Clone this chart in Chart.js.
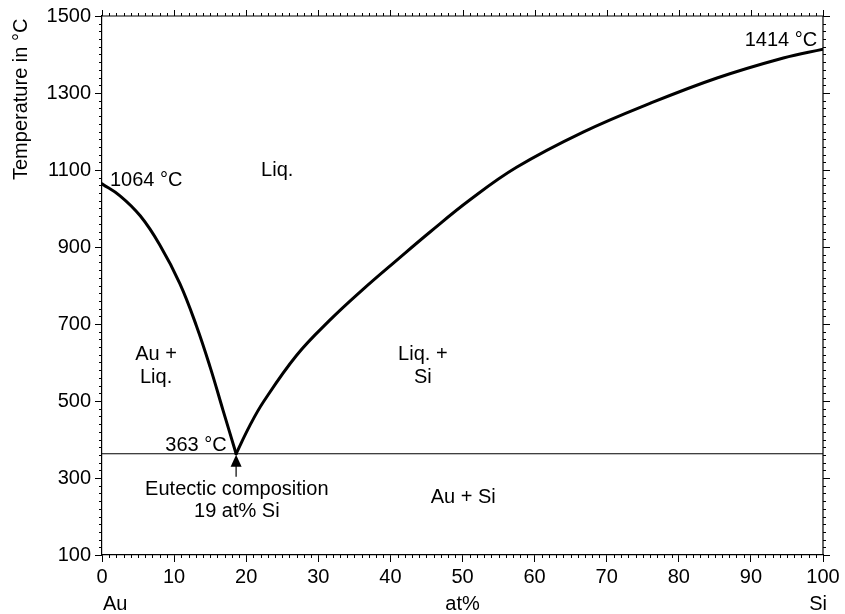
<!DOCTYPE html>
<html><head><meta charset="utf-8">
<script src="https://cdn.jsdelivr.net/npm/chart.js@4"></script>
<style>html,body{margin:0;padding:0;background:#fff}</style>
</head><body>
<canvas id="c" width="845" height="614"></canvas>
<script>
// ---- data ----
const auLiquidusX = [0, 2.5, 5.3, 8.0, 10.8, 13.1, 15.0, 16.8, 18.6];
const auLiquidusT = [1064, 1033, 981, 906, 805, 695, 588, 475, 363];
const siLiquidusX = [18.6, 20.5, 22.4, 27.0, 31.6, 36.2, 40.9, 45.5, 51.0, 57.5, 66.8, 76.0, 85.3, 94.5, 100];
const siLiquidusT = [363, 436, 498, 619, 710, 790, 866, 939, 1022, 1107, 1199, 1273, 1339, 1391, 1414];
const eutecticX = [0, 100];
const eutecticT = [363, 363];
const eutecticPoint = [18.6, 363];
const xTickValues = [0, 10, 20, 30, 40, 50, 60, 70, 80, 90, 100];
const yTickValues = [100, 300, 500, 700, 900, 1100, 1300, 1500];
const regionTexts = ['1064 °C', 'Liq.', '1414 °C', 'Au +', 'Liq.', 'Liq. +', 'Si', '363 °C', 'Eutectic composition', '19 at% Si', 'Au + Si'];
const axisTexts = { y: 'Temperature in °C', x: 'at%', left: 'Au', right: 'Si' };

// ---- layout of annotations (data coordinates, baseline) ----
const regionPos = [
  {x: 1.1, y: 1059, a: 'left'},
  {x: 24.3, y: 1085, a: 'center'},
  {x: 99.2, y: 1422, a: 'right'},
  {x: 7.5, y: 606, a: 'center'},
  {x: 7.5, y: 548, a: 'center'},
  {x: 44.5, y: 606, a: 'center'},
  {x: 44.5, y: 548, a: 'center'},
  {x: 17.3, y: 370, a: 'right'},
  {x: 18.7, y: 256, a: 'center'},
  {x: 18.7, y: 199, a: 'center'},
  {x: 50.1, y: 235, a: 'center'}
];

const FONT = '"Liberation Sans", Arial, Helvetica, sans-serif';
const FS = 20;

function pts(xs, ys) { return xs.map((x, i) => ({x: x, y: ys[i]})); }

const decor = {
  id: 'decor',
  afterDatasetsDraw(chart) {
    const ctx = chart.ctx, xs = chart.scales.x, ys = chart.scales.y;
    const ca = chart.chartArea;
    ctx.save();
    ctx.strokeStyle = '#000';
    ctx.lineWidth = 1.2;
    ctx.beginPath();
    ctx.moveTo(ca.left, ca.top); ctx.lineTo(ca.right, ca.top); ctx.lineTo(ca.right, ca.bottom);
    ctx.stroke();
    ctx.lineWidth = 1;
    ctx.beginPath();
    for (let v = xs.min; v <= xs.max; v += 1) {
      const p = Math.round(xs.getPixelForValue(v)) + 0.5;
      const major = v % 10 === 0;
      if (!major) { ctx.moveTo(p, ca.bottom); ctx.lineTo(p, ca.bottom + 3); }
      ctx.moveTo(p, ca.top); ctx.lineTo(p, ca.top - (major ? 6 : 3));
    }
    for (let v = ys.min; v <= ys.max; v += 20) {
      const p = Math.round(ys.getPixelForValue(v)) + 0.5;
      const major = (v - 100) % 200 === 0;
      if (!major) { ctx.moveTo(ca.left, p); ctx.lineTo(ca.left - 3, p); }
      ctx.moveTo(ca.right, p); ctx.lineTo(ca.right + (major ? 7 : 3), p);
    }
    ctx.stroke();

    // arrow at eutectic point
    const ax = xs.getPixelForValue(eutecticPoint[0]);
    const ay = ys.getPixelForValue(eutecticPoint[1]);
    ctx.fillStyle = '#000';
    ctx.beginPath();
    ctx.moveTo(ax, ay + 1);
    ctx.lineTo(ax - 5.5, ay + 13);
    ctx.lineTo(ax + 5.5, ay + 13);
    ctx.closePath();
    ctx.fill();
    ctx.lineWidth = 1.2;
    ctx.beginPath();
    ctx.moveTo(ax, ay + 12); ctx.lineTo(ax, ay + 23);
    ctx.stroke();

    // region texts
    ctx.font = FS + 'px ' + FONT;
    ctx.fillStyle = '#000';
    ctx.textBaseline = 'alphabetic';
    regionTexts.forEach((t, i) => {
      const r = regionPos[i];
      ctx.textAlign = r.a;
      ctx.fillText(t, xs.getPixelForValue(r.x), ys.getPixelForValue(r.y));
    });

    // axis texts
    const by = chart.height - 4;
    ctx.textAlign = 'left';
    ctx.fillText(axisTexts.left, xs.getPixelForValue(0) + 1, by);
    ctx.textAlign = 'right';
    ctx.fillText(axisTexts.right, xs.getPixelForValue(100) + 4, by);
    ctx.textAlign = 'center';
    ctx.fillText(axisTexts.x, xs.getPixelForValue(50), by);
    ctx.save();
    ctx.translate(27, ca.top + 164);
    ctx.rotate(-Math.PI / 2);
    ctx.textAlign = 'left';
    ctx.fillText(axisTexts.y, 0, 0);
    ctx.restore();
    ctx.restore();
  }
};

new Chart(document.getElementById('c'), {
  type: 'scatter',
  data: {
    datasets: [
      {data: pts(auLiquidusX, auLiquidusT), showLine: true, borderColor: '#000', borderWidth: 3, pointRadius: 0, tension: 0.4, fill: false, borderCapStyle: 'round', borderJoinStyle: 'round'},
      {data: pts(siLiquidusX, siLiquidusT), showLine: true, borderColor: '#000', borderWidth: 3, pointRadius: 0, tension: 0.4, fill: false, borderCapStyle: 'round', borderJoinStyle: 'round'},
      {data: pts(eutecticX, eutecticT), showLine: true, borderColor: '#000', borderWidth: 1.2, pointRadius: 0, fill: false}
    ]
  },
  options: {
    responsive: false,
    animation: false,
    devicePixelRatio: 1,
    layout: {padding: {top: 15, right: 22, left: 0, bottom: 0}},
    plugins: {legend: {display: false}, tooltip: {enabled: false}},
    scales: {
      x: {
        type: 'linear', min: 0, max: 100,
        afterBuildTicks: s => { s.ticks = xTickValues.map(v => ({value: v})); },
        afterFit: s => { s.height = 59; },
        grid: {drawOnChartArea: false, drawTicks: true, tickLength: 7, color: '#000', lineWidth: 1},
        border: {display: true, color: '#000', width: 1.2},
        ticks: {color: '#000', font: {family: FONT, size: FS}, padding: 3, maxRotation: 0, autoSkip: false, callback: v => String(v)}
      },
      y: {
        type: 'linear', min: 100, max: 1500,
        afterBuildTicks: s => { s.ticks = yTickValues.map(v => ({value: v})); },
        afterFit: s => { s.width = 102; },
        grid: {drawOnChartArea: false, drawTicks: true, tickLength: 7, color: '#000', lineWidth: 1},
        border: {display: true, color: '#000', width: 1.2},
        ticks: {color: '#000', font: {family: FONT, size: FS}, padding: 4, autoSkip: false, callback: v => String(v)}
      }
    }
  },
  plugins: [decor]
});
</script>
</body></html>
